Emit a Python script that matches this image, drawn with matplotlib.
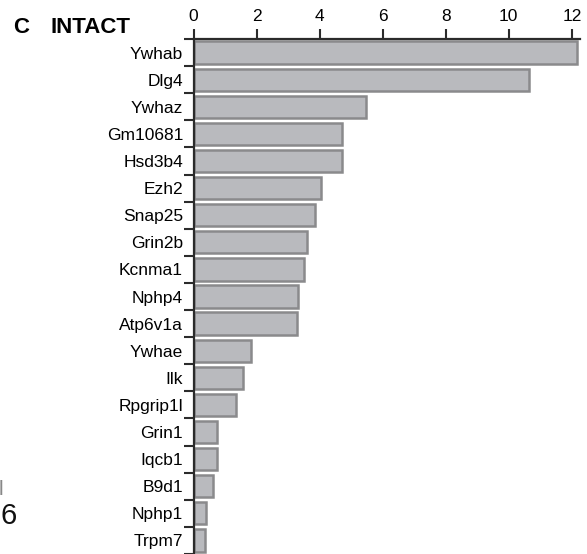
import numpy as np
import matplotlib.pyplot as plt

plt.rcParams['font.family'] = ['Liberation Sans', 'DejaVu Sans']

genes = ['Ywhab', 'Dlg4', 'Ywhaz', 'Gm10681', 'Hsd3b4', 'Ezh2', 'Snap25',
         'Grin2b', 'Kcnma1', 'Nphp4', 'Atp6v1a', 'Ywhae', 'Ilk', 'Rpgrip1l',
         'Grin1', 'Iqcb1', 'B9d1', 'Nphp1', 'Trpm7']
scores = [12.15, 10.65, 5.48, 4.70, 4.70, 4.04, 3.86, 3.60, 3.50, 3.32,
          3.29, 1.83, 1.58, 1.36, 0.76, 0.75, 0.63, 0.41, 0.38]
xticks = [0, 2, 4, 6, 8, 10, 12]

W, H = 587, 554
fig = plt.figure(figsize=(W / 100, H / 100), dpi=100)

# axes in pixel units -> figure fraction
left_px, right_px, top_px = 193.5, 580.0, 39.0
ax = fig.add_axes([left_px / W, 0, (right_px - left_px) / W, (H - top_px) / H])

y = np.arange(len(genes))
ax.barh(y, scores, height=0.82, color='#b9babe', edgecolor='#8a8a8c',
        linewidth=1.8, clip_on=False, zorder=2)

ax.set_ylim(len(genes) - 0.5, -0.5)
ax.set_xlim(0, (right_px - left_px) / 31.53)

ax.xaxis.tick_top()
ax.set_xticks(xticks)
ax.set_xticklabels([str(t) for t in xticks], fontsize=12.5)
ax.tick_params(axis='x', direction='out', length=7, width=1.5,
               color='#2b2b2b', pad=4)

ax.set_yticks(y)
ax.set_yticklabels(genes, fontsize=12.5)
ax.set_yticks(np.arange(len(genes) + 1) - 0.5, minor=True)
ax.tick_params(axis='y', which='major', length=0, pad=7.5)
ax.tick_params(axis='y', which='minor', direction='out', length=7,
               width=1.5, color='#2b2b2b')

for side in ['right', 'bottom']:
    ax.spines[side].set_visible(False)
for side in ['top', 'left']:
    ax.spines[side].set_color('#2b2b2b')
    ax.spines[side].set_linewidth(1.6)

fig.text(13 / W, 1 - 33 / H, 'C', fontsize=16, fontweight='bold',
         va='baseline', ha='left')
fig.text(50 / W, 1 - 33 / H, 'INTACT', fontsize=16, fontweight='bold',
         va='baseline', ha='left')

# clipped labels from the neighbouring panel
fig.text(3.5 / W, 1 - 495 / H, 'l', fontsize=15, color='#888888',
         va='baseline', ha='right')
fig.text(17 / W, 1 - 524 / H, '6', fontsize=21, color='#111111',
         va='baseline', ha='right')

fig.savefig('out.png', dpi=100)
